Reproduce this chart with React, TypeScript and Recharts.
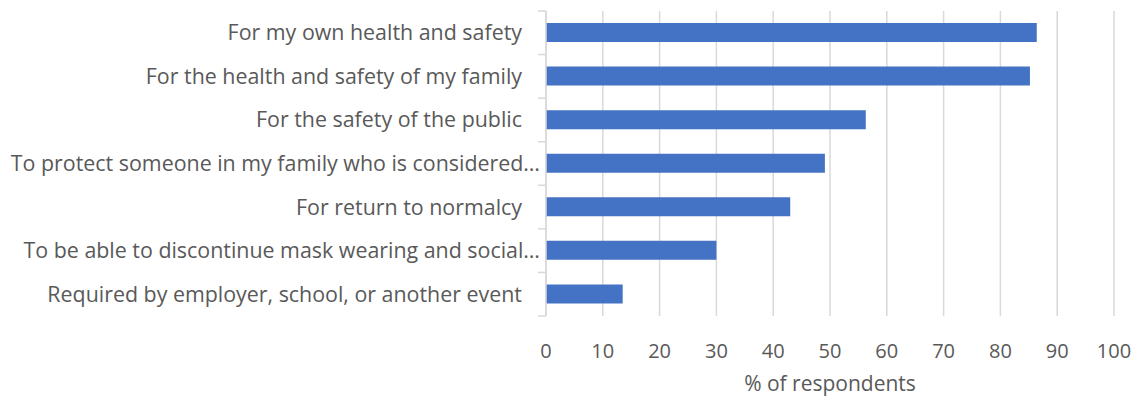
import React from "react";
import { Bar, BarChart, CartesianGrid, XAxis, YAxis } from "recharts";

const categories = [
  "For my own health and safety",
  "For the health and safety of my family",
  "For the safety of the public",
  "To protect someone in my family who is considered…",
  "For return to normalcy",
  "To be able to discontinue mask wearing and social…",
  "Required by employer, school, or another event",
];
const respondents = [86.4, 85.2, 56.3, 49.1, 43.0, 30.0, 13.5];
const xTicks = [0, 10, 20, 30, 40, 50, 60, 70, 80, 90, 100];

const data = categories.map((reason, i) => ({ reason, value: respondents[i] }));

const W = 1136;
const H = 396;
const margin = { top: 11, right: 22, bottom: 5, left: 0 };
const yAxisWidth = 546;
const xAxisHeight = 75;
const plotH = H - margin.top - margin.bottom - xAxisHeight;
const band = plotH / categories.length;
const FONT = "'Open Sans', Lato, sans-serif";
const GREY = "#595959";
const LINE = "#d9d9d9";

function CategoryTick(props: any) {
  const { x, y, payload, index } = props;
  const label: string = payload.value;
  const truncated = label.endsWith("…");
  const last = index === categories.length - 1;
  const axisX = x + 8;
  return (
    <g>
      <line x1={axisX - 8} x2={axisX} y1={y - band / 2} y2={y - band / 2} stroke={LINE} strokeWidth={1.5} />
      {last && <line x1={axisX - 8} x2={axisX} y1={y + band / 2} y2={y + band / 2} stroke={LINE} strokeWidth={1.5} />}
      <text x={truncated ? x + 2 : x - 16} y={y} dy="0.35em" textAnchor="end" fill={GREY} fontSize={21.4} fontFamily={FONT}>
        {label}
      </text>
    </g>
  );
}

export default function App() {
  return (
    <div style={{ width: W, height: H, background: "#fff" }}>
      <style>{"body{margin:0}"}</style>
      <BarChart width={W} height={H} data={data} layout="vertical" margin={margin} barCategoryGap={0}>
        <CartesianGrid horizontal={false} stroke={LINE} strokeWidth={1.5} />
        <XAxis
          type="number"
          domain={[0, 100]}
          ticks={xTicks}
          axisLine={false}
          tickLine={false}
          height={xAxisHeight}
          tickMargin={22}
          tick={{ fill: GREY, fontSize: 20, fontFamily: FONT }}
          label={{ value: "% of respondents", position: "insideBottom", offset: 0, fill: GREY, fontSize: 21, fontFamily: FONT }}
        />
        <YAxis
          type="category"
          dataKey="reason"
          width={yAxisWidth}
          axisLine={{ stroke: LINE, strokeWidth: 1.5 }}
          tickLine={false}
          tick={<CategoryTick />}
          interval={0}
        />
        <Bar dataKey="value" fill="#4472C4" barSize={19} isAnimationActive={false} />
      </BarChart>
    </div>
  );
}
